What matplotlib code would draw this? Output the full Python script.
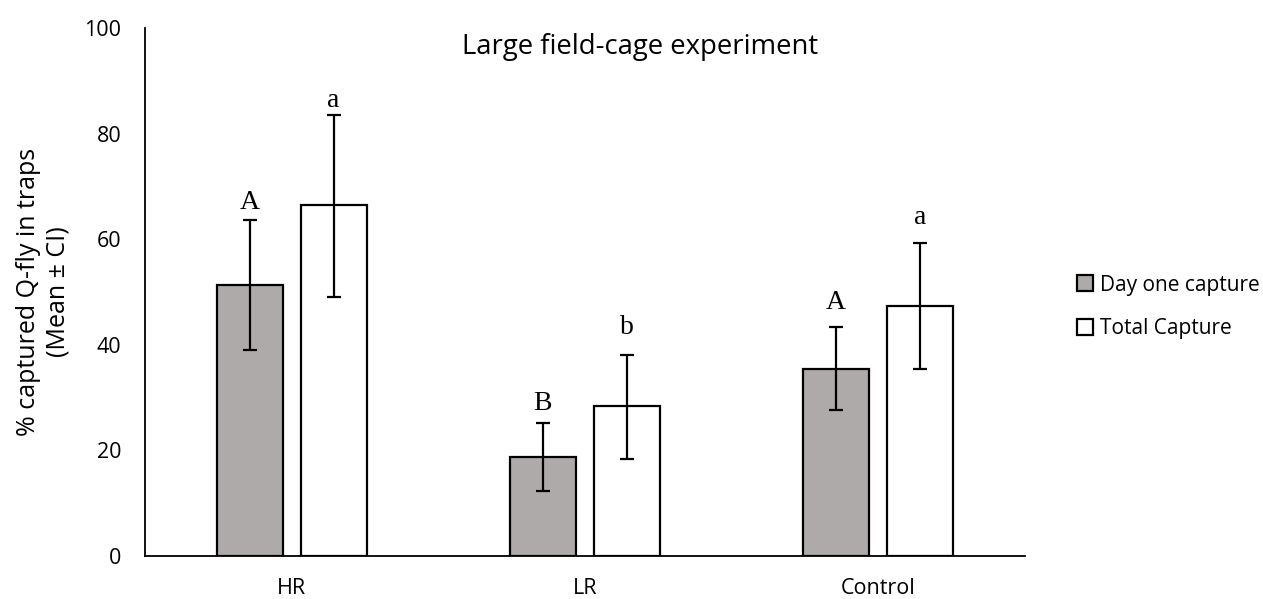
import numpy as np
import matplotlib
matplotlib.use("Agg")
import matplotlib.pyplot as plt
from matplotlib.patches import Patch

groups = ["HR", "LR", "Control"]
day_one = [51.3, 18.8, 35.4]
day_one_lo = [39.0, 12.3, 27.7]
day_one_hi = [63.6, 25.2, 43.4]
total = [66.5, 28.4, 47.3]
total_lo = [49.0, 18.4, 35.4]
total_hi = [83.5, 38.0, 59.3]
day_one_letters = ["A", "B", "A"]
total_letters = ["a", "b", "a"]
day_one_letter_y = [66.9, 28.8, 48.1]
total_letter_y = [86.2, 43.2, 64.2]

plt.rcParams.update({"font.family": ["Open Sans", "DejaVu Sans"]})

fig = plt.figure(figsize=(12.63, 5.99), dpi=100)
ax = fig.add_axes([0.1148, 0.0718, 0.6965, 0.8814])

x = np.arange(len(groups))
w = 0.225
off = 0.143
gray = "#ADAAA9"

err1 = [np.array(day_one) - np.array(day_one_lo), np.array(day_one_hi) - np.array(day_one)]
err2 = [np.array(total) - np.array(total_lo), np.array(total_hi) - np.array(total)]

ax.bar(x - off, day_one, w, color=gray, edgecolor="black", linewidth=1.6,
       yerr=err1, capsize=5, error_kw=dict(elinewidth=1.6, capthick=1.6, ecolor="black"), zorder=2)
ax.bar(x + off, total, w, color="white", edgecolor="black", linewidth=1.6,
       yerr=err2, capsize=5, error_kw=dict(elinewidth=1.6, capthick=1.6, ecolor="black"), zorder=2)

for i in range(len(groups)):
    ax.text(x[i] - off, day_one_letter_y[i], day_one_letters[i], ha="center", va="center",
            fontsize=20, family="Liberation Serif")
    ax.text(x[i] + off, total_letter_y[i], total_letters[i], ha="center", va="center",
            fontsize=20, family="Liberation Serif")

ax.set_xlim(-0.5, 2.5)
ax.set_ylim(0, 100)
ax.set_yticks([0, 20, 40, 60, 80, 100])
ax.set_xticks(x)
ax.set_xticklabels(groups)
ax.tick_params(axis="both", length=0, labelsize=15.5)
ax.tick_params(axis="y", pad=17)
ax.tick_params(axis="x", pad=16)
for s in ["top", "right"]:
    ax.spines[s].set_visible(False)
ax.spines["left"].set_linewidth(1.3)
ax.spines["bottom"].set_linewidth(1.3)

ax.set_ylabel("% captured Q-fly in traps\n(Mean ± CI)", fontsize=18, labelpad=10,
              linespacing=1.25)
fig.text(640 / 1263, 1 - 47 / 599, "Large field-cage experiment", ha="center", va="center", fontsize=19.8)

handles = [Patch(facecolor=gray, edgecolor="black", linewidth=1.6, label="Day one capture"),
           Patch(facecolor="white", edgecolor="black", linewidth=1.6, label="Total Capture")]
fig.legend(handles=handles, loc="center left", bbox_to_anchor=(1058 / 1263, 1 - 307 / 599),
           frameon=False, fontsize=15, handlelength=0.8, handleheight=0.8,
           handletextpad=0.3, labelspacing=1.1)

fig.savefig("out.png", dpi=100)
